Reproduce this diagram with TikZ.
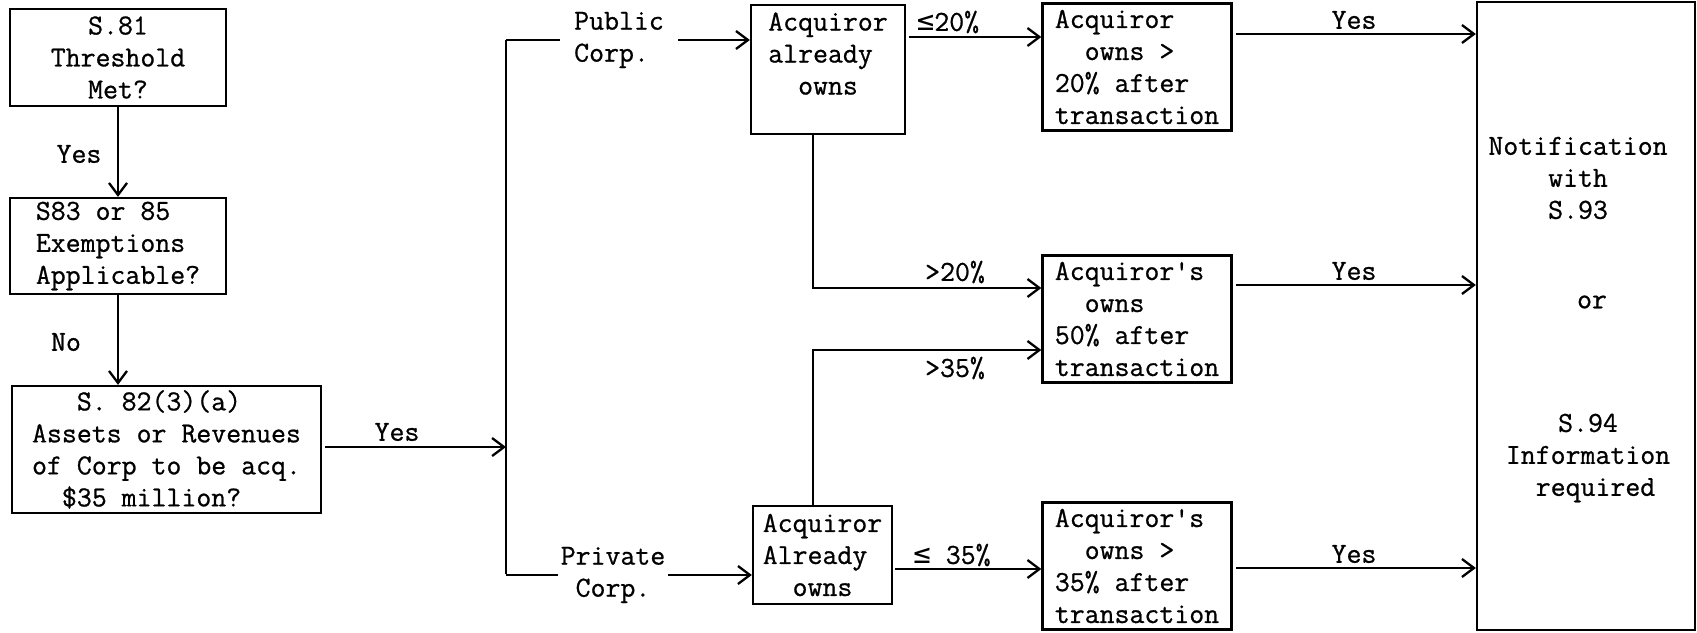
\documentclass[tikz,border=0pt]{standalone}
\usepackage{fontspec}
\setmonofont{Latin Modern Mono}[FakeBold=0.8]
\newfontfamily\symf{DejaVu Sans Mono}
\usetikzlibrary{arrows.meta}
\begin{document}
\begin{tikzpicture}[x=1pt,y=-1pt,
  every node/.style={font=\ttfamily\fontsize{29}{32}\selectfont, inner sep=0pt},
  box/.style={draw, line width=2.3pt, align=center},
  conn/.style={line width=2.3pt},
  arr/.style={conn, -{Straight Barb[length=12pt,width=18pt]}},
  lbl/.style={},
]
\useasboundingbox (0,0) rectangle (1697,632);

% left column
\node[box, minimum width=216pt, minimum height=97pt] (s81) at (118,57.5) {S.81\\Threshold\\Met?};
\node[box, align=left, minimum width=216pt, minimum height=96pt] (s83) at (118,246) {S83 or 85\\Exemptions\\Applicable?};
\node[box, align=left, minimum width=309pt, minimum height=127pt] (s82) at (166.5,449.5)
  {\phantom{xxx}S. 82(3)(a)\\Assets or Revenues\\of Corp to be acq.\\\phantom{xx}\$35 million?};
\node[lbl] (lyes1) at (79,154) {Yes};
\node[lbl] (lno) at (66,342) {No};
\node[lbl] (lyes2) at (397,432) {Yes};

\draw[arr] (s81.south) -- (s83.north);
\draw[arr] (s83.south) -- (s83.south |- s82.north);

% bracket
\coordinate (btop) at (506,40);
\coordinate (bbot) at (506,574);
\coordinate (bmid) at (506,447);
\draw[conn] (btop) -- (bbot);
\draw[arr, shorten <=3pt] (s82.east |- bmid) -- (bmid);

\node[align=left, anchor=west, inner xsep=14pt] (pub) at (560,40) {Public\\Corp.};
\node[align=center, inner xsep=3pt] (priv) at (613,575) {Private\\Corp.};

% acquiror boxes
\node[box, align=left, minimum width=154pt, minimum height=129pt] (pa) at (828,69.5) {Acquiror\\already\\\phantom{xx}owns\\\mbox{}};
\node[box, align=left, minimum width=139pt, minimum height=98pt] (va) at (822.5,555) {Acquiror\\Already\\\phantom{xx}owns};

\draw[conn] (btop) -- (pub.west);
\draw[arr] (pub.east) -- (pub.east -| pa.west);
\draw[conn] (bbot |- priv.west) -- (priv.west);
\draw[arr] (priv.east) -- (priv.east -| va.west);

% result boxes
\node[box, align=left, minimum width=189pt, minimum height=127pt] (b1) at (1137,67)
  {Acquiror\\\phantom{xx}owns \textbf{>}\\20\% after\\transaction};
\node[box, align=left, minimum width=189pt, minimum height=127pt] (b2) at (1137,319)
  {Acquiror's\\\phantom{xx}owns\\50\% after\\transaction};
\node[box, align=left, minimum width=189pt, minimum height=127pt] (b3) at (1137,566)
  {Acquiror's\\\phantom{xx}owns \textbf{>}\\35\% after\\transaction};

\coordinate (c20) at (909,37);
\draw[arr] (c20) -- (c20 -| b1.west);
\node[lbl] (l20) at (948,22) {{\symf ≤}20\%};

\coordinate (k1) at (813,288);
\draw[arr] (k1 |- pa.south) -- (k1) -- (k1 -| b2.west);
\node[lbl] (lg20) at (955,272) {\textbf{>}20\%};

\coordinate (k2) at (813,350);
\draw[arr] (k2 |- va.north) -- (k2) -- (k2 -| b2.west);
\node[lbl] (lg35) at (955,368) {\textbf{>}35\%};

\coordinate (k3) at (895,569);
\draw[arr] (k3) -- (k3 -| b3.west);
\node[lbl] (l35) at (952,555) {{\symf ≤} 35\%};

% notification box
\node[box, minimum width=218pt, minimum height=628pt] (nb) at (1586,316) {};
\node[align=center] (n1) at (1578,178) {Notification\\with\\S.93};
\node (n2) at (1592,302) {or};
\node[align=center] (n3) at (1588,458) {S.94\\Information\\\phantom{x}required};

\coordinate (y1) at (1236,34);
\coordinate (y2) at (1236,285);
\coordinate (y3) at (1236,568);
\draw[arr] (y1) -- (y1 -| nb.west);
\draw[arr] (y2) -- (y2 -| nb.west);
\draw[arr] (y3) -- (y3 -| nb.west);
\node[lbl] (ly1) at (1354,20) {Yes};
\node[lbl] (ly2) at (1354,271) {Yes};
\node[lbl] (ly3) at (1354,554) {Yes};
\end{tikzpicture}
\end{document}
